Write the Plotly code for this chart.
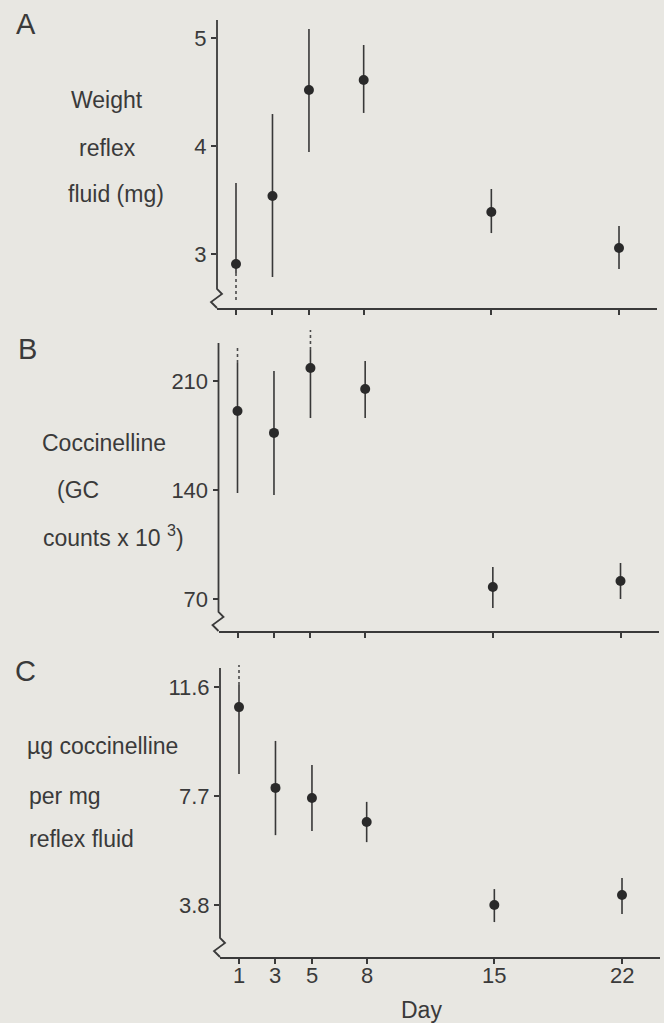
import plotly.graph_objects as go

# ---------------- data ----------------
days = [1, 3, 5, 8, 15, 22]
day_ticks = [1, 3, 5, 8, 15, 22]

# Panel A: weight of reflex fluid (mg)
a_mean = [2.907, 3.537, 4.519, 4.611, 3.389, 3.056]
a_high = [3.657, 4.296, 5.083, 4.935, 3.602, 3.259]
a_low = [2.824, 2.787, 3.944, 4.306, 3.194, 2.861]
a_dot_from = [2.824, None, None, None, None, None]
a_dot_to = [2.574, None, None, None, None, None]
a_ticks = [3, 4, 5]
a_ticktext = ["3", "4", "5"]

# Panel B: coccinelline (GC counts x 10^3)
b_mean = [190.7, 176.7, 218.3, 204.8, 78.0, 81.8]
b_high = [221.5, 216.4, 229.8, 222.8, 90.8, 93.4]
b_low = [138.2, 136.9, 186.3, 186.3, 64.5, 70.3]
b_dot_from = [221.5, None, 229.8, None, None, None]
b_dot_to = [233.0, None, 242.6, None, None, None]
b_ticks = [70, 140, 210]
b_ticktext = ["70", "140", "210"]

# Panel C: ug coccinelline per mg reflex fluid
c_mean = [10.88, 7.99, 7.63, 6.77, 3.80, 4.16]
c_high = [11.67, 9.67, 8.81, 7.49, 4.37, 4.77]
c_low = [8.49, 6.30, 6.45, 6.05, 3.19, 3.48]
c_dot_from = [11.67, None, None, None, None, None]
c_dot_to = [12.39, None, None, None, None, None]
c_ticks = [3.8, 7.7, 11.6]
c_ticktext = ["3.8", "7.7", "11.6"]

# ---------------- layout geometry ----------------
W, H = 664, 1023
BG = "#e8e7e2"
INK = "#3a3a3a"
MARK = "#2a2a2a"
FONT = "Liberation Sans, Arial, sans-serif"
X_RANGE = [-0.042, 24.083]


def fx(px):
    return px / W


def fy(py):
    return 1 - py / H


panels = [
    dict(key="", mean=a_mean, high=a_high, low=a_low, dfrom=a_dot_from, dto=a_dot_to,
         ticks=a_ticks, ticktext=a_ticktext, yrange=[2.5, 5.1667],
         x0=217, x1=657, top=20, bottom=308, axis_top=20, labels=False),
    dict(key="2", mean=b_mean, high=b_high, low=b_low, dfrom=b_dot_from, dto=b_dot_to,
         ticks=b_ticks, ticktext=b_ticktext, yrange=[49.8, 242.6],
         x0=218.5, x1=658.5, top=330, bottom=631, axis_top=343, labels=False),
    dict(key="3", mean=c_mean, high=c_high, low=c_low, dfrom=c_dot_from, dto=c_dot_to,
         ticks=c_ticks, ticktext=c_ticktext, yrange=[1.94, 12.566],
         x0=220, x1=660, top=660, bottom=957, axis_top=668, labels=True),
]

fig = go.Figure()
shapes = []
annotations = []
layout_axes = {}

for p in panels:
    k = p["key"]
    xa, ya = "x" + k, "y" + k
    err_plus = [h - m for h, m in zip(p["high"], p["mean"])]
    err_minus = [m - l for m, l in zip(p["mean"], p["low"])]
    # dotted extensions
    dx, dy = [], []
    for d, f, t in zip(days, p["dfrom"], p["dto"]):
        if f is not None:
            dx += [d, d, None]
            dy += [f, t, None]
    fig.add_trace(go.Scatter(x=dx, y=dy, xaxis=xa, yaxis=ya, mode="lines",
                             line=dict(color="#4a4a4a", width=1.6, dash="dot"),
                             hoverinfo="skip", showlegend=False, cliponaxis=False))
    fig.add_trace(go.Scatter(
        x=days, y=p["mean"], xaxis=xa, yaxis=ya, mode="markers",
        marker=dict(size=10, color=MARK),
        error_y=dict(type="data", symmetric=False, array=err_plus, arrayminus=err_minus,
                     thickness=1.6, width=0, color="#383838"),
        showlegend=False, cliponaxis=False))

    dom_x = [fx(p["x0"]), fx(p["x1"])]
    dom_y = [fy(p["bottom"]), fy(p["top"])]
    layout_axes["xaxis" + k] = dict(
        domain=dom_x, range=X_RANGE, anchor=ya, showline=True, linewidth=1.8, linecolor=INK,
        ticks="outside", ticklen=5, tickwidth=1.5, tickcolor=INK,
        tickvals=day_ticks, showticklabels=False, showgrid=False, zeroline=False,
        fixedrange=True)
    layout_axes["yaxis" + k] = dict(
        domain=dom_y, range=p["yrange"], anchor=xa, showline=False,
        ticks="outside", ticklen=5, tickwidth=1.5, tickcolor=INK,
        tickvals=p["ticks"], ticktext=p["ticktext"], showgrid=False, zeroline=False,
        tickfont=dict(family=FONT, size=22, color=INK), fixedrange=True)

    # x tick labels placed on the day scale just below the tick marks
    if p["labels"]:
        for d in day_ticks:
            annotations.append(dict(text=str(d), x=d, xref=xa, y=fy(p["bottom"] + 18),
                                    yref="paper", xanchor="center", yanchor="middle",
                                    showarrow=False,
                                    font=dict(family=FONT, size=22, color=INK)))

    # y-axis line with a break (zigzag) near the bottom
    x0, yb, yt = p["x0"], p["bottom"], p["axis_top"]
    pts = [(x0, yt), (x0, yb - 19), (x0 + 5, yb - 14), (x0 - 6, yb - 6), (x0, yb)]
    path = "M " + " L ".join(f"{fx(a):.5f},{fy(b):.5f}" for a, b in pts)
    shapes.append(dict(type="path", path=path, xref="paper", yref="paper",
                       line=dict(color=INK, width=1.8), layer="above"))


def add_text(text, x, y, size, xanchor="center"):
    annotations.append(dict(text=text, x=fx(x), y=fy(y), xref="paper", yref="paper",
                            xanchor=xanchor, yanchor="middle", showarrow=False,
                            font=dict(family=FONT, size=size, color=INK)))


# panel letters
add_text("A", 26, 24, 29)
add_text("B", 27, 349, 29)
add_text("C", 25, 671, 29)

# y titles
add_text("Weight", 107, 100, 23)
add_text("reflex", 107, 148, 23)
add_text("fluid (mg)", 116, 194, 23)

add_text("Coccinelline", 104, 443, 23)
add_text("(GC", 78, 490, 23)
add_text("counts x 10 <sup>3</sup>)", 113, 536, 23)

add_text("µg coccinelline", 25, 746, 23, "left")
add_text("per mg", 27, 796, 23, "left")
add_text("reflex fluid", 27, 839, 23, "left")

add_text("Day", 421, 1010, 23)

fig.update_layout(
    width=W, height=H, margin=dict(l=0, r=0, t=0, b=0, pad=0),
    paper_bgcolor=BG, plot_bgcolor=BG,
    font=dict(family=FONT, color=INK),
    shapes=shapes, annotations=annotations, showlegend=False,
    **layout_axes)

fig.write_html("out.html", config={"displayModeBar": False},
               post_script="document.body.style.margin='0';document.body.style.background='%s';" % BG)
